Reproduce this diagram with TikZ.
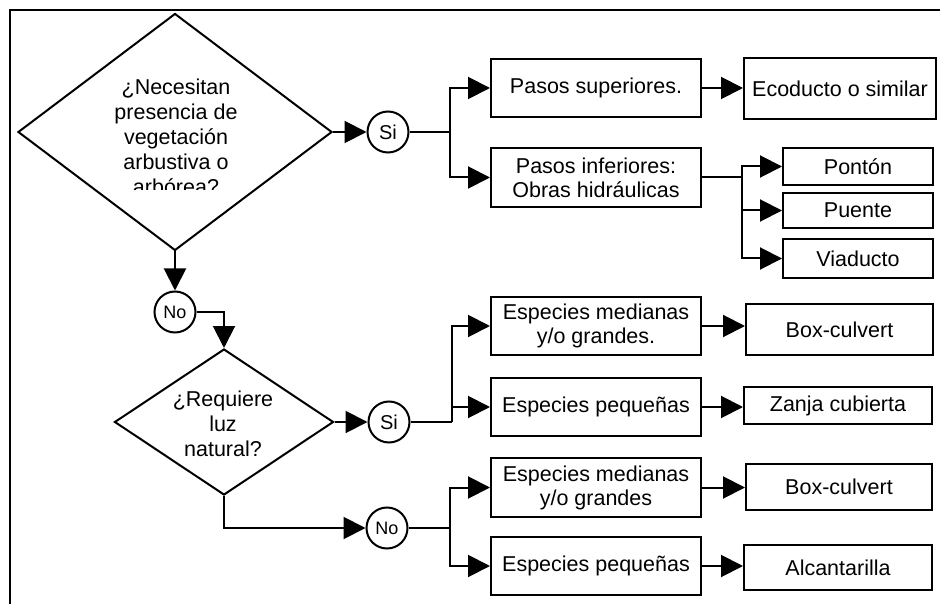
\documentclass[tikz,border=0pt]{standalone}
\usepackage{fontspec}
\setmainfont{Liberation Sans}
\usetikzlibrary{shapes.geometric,arrows.meta}
\begin{document}
\begin{tikzpicture}[x=1pt,y=-1pt,
  every node/.style={font=\fontsize{21.5}{24}\selectfont},
  line/.style={line width=2pt},
  arr/.style={line width=2pt,-{Triangle[length=22pt,width=22pt]}},
  box/.style={draw,line width=2pt,rectangle,inner sep=0pt,align=center},
  dec/.style={draw,line width=2pt,diamond,inner sep=0pt},
  ans/.style={draw,line width=2pt,circle,minimum size=41pt,inner sep=0pt},
  dtext/.style={align=center,inner sep=0pt,font=\fontsize{21.5}{25}\selectfont},
]
\useasboundingbox (0,0) rectangle (940,604);
% frame (top and left edges)
\draw[line width=2pt] (10,604) -- (10,10) -- (940,10);

% decisions
\node[dec,minimum width=314pt,minimum height=237pt] (d1) at (175,132) {};
\begin{scope}
  \clip (0,0) rectangle (940,190);
  \node[dtext] (t1) at (176,137) {¿Necesitan\\presencia de\\vegetación\\arbustiva o\\arbórea?};
\end{scope}
\node[dec,minimum width=219pt,minimum height=146pt] (d2) at (224,422) {};
\node[dtext] (t2) at (223,424) {¿Requiere\\luz\\natural?};

% answer circles
\node[ans,font=\fontsize{20}{22}\selectfont] (si1) at (388,132) {Si};
\node[ans,font=\fontsize{18}{20}\selectfont] (no1) at (175,312) {No};
\node[ans,font=\fontsize{20}{22}\selectfont] (si2) at (389,422) {Si};
\node[ans,font=\fontsize{18}{20}\selectfont] (no2) at (387,528) {No};

% boxes
\node[box,minimum width=210pt,minimum height=58pt] (ps) at (596,88) {Pasos superiores.};
\node[box,minimum width=192pt,minimum height=61pt] (eco) at (840,89) {Ecoducto o similar};
\node[box,minimum width=210pt,minimum height=59pt] (pi) at (596,177.5) {Pasos inferiores:\\Obras hidráulicas};
\node[box,minimum width=150pt,minimum height=37pt] (pon) at (858,166.5) {Pontón};
\node[box,minimum width=150pt,minimum height=35pt] (pue) at (858,210.5) {Puente};
\node[box,minimum width=150pt,minimum height=39pt] (via) at (858,258.5) {Viaducto};
\node[box,minimum width=210pt,minimum height=58pt] (em1) at (596,326) {Especies medianas\\y/o grandes.};
\node[box,minimum width=187pt,minimum height=51pt] (bc1) at (839.5,329.5) {Box-culvert};
\node[box,minimum width=210pt,minimum height=58pt] (ep1) at (596,407) {Especies pequeñas};
\node[box,minimum width=188pt,minimum height=37pt] (zan) at (838,405.5) {Zanja cubierta};
\node[box,minimum width=210pt,minimum height=59pt] (em2) at (596,487.5) {Especies medianas\\y/o grandes};
\node[box,minimum width=186pt,minimum height=46pt] (bc2) at (839,487) {Box-culvert};
\node[box,minimum width=210pt,minimum height=58pt] (ep2) at (596,566) {Especies pequeñas};
\node[box,minimum width=188pt,minimum height=45pt] (alc) at (838,567.5) {Alcantarilla};

% junctions
\coordinate (j1) at (450,132);
\coordinate (j3) at (742,177.5);
\coordinate (j2) at (452,422);
\coordinate (j4) at (450,528);

% connectors
\draw[arr] (d1.east) -- (si1.west);
\draw[line] (si1.east) -- (j1);
\draw[arr] (j1) |- (ps.west);
\draw[arr] (j1) |- (pi.west);
\draw[arr] (ps.east) -- (ps.east -| eco.west);
\draw[line] (pi.east) -- (j3);
\draw[arr] (j3) |- (pon.west);
\draw[arr] (j3) |- (pue.west);
\draw[arr] (j3) |- (via.west);

\draw[arr] (d1.south) -- (no1.north);
\draw[arr] (no1.east) -| (d2.north);
\draw[arr] (d2.east) -- (si2.west);
\draw[line] (si2.east) -- (j2);
\draw[arr] (j2) |- (em1.west);
\draw[arr] (j2) |- (ep1.west);
\draw[arr] (em1.east) -- (em1.east -| bc1.west);
\draw[arr] (ep1.east) -- (ep1.east -| zan.west);

\draw[arr] (d2.south) |- (no2.west);
\draw[line] (no2.east) -- (j4);
\draw[arr] (j4) |- (em2.west);
\draw[arr] (j4) |- (ep2.west);
\draw[arr] (em2.east) -- (em2.east -| bc2.west);
\draw[arr] (ep2.east) -- (ep2.east -| alc.west);
\end{tikzpicture}
\end{document}
